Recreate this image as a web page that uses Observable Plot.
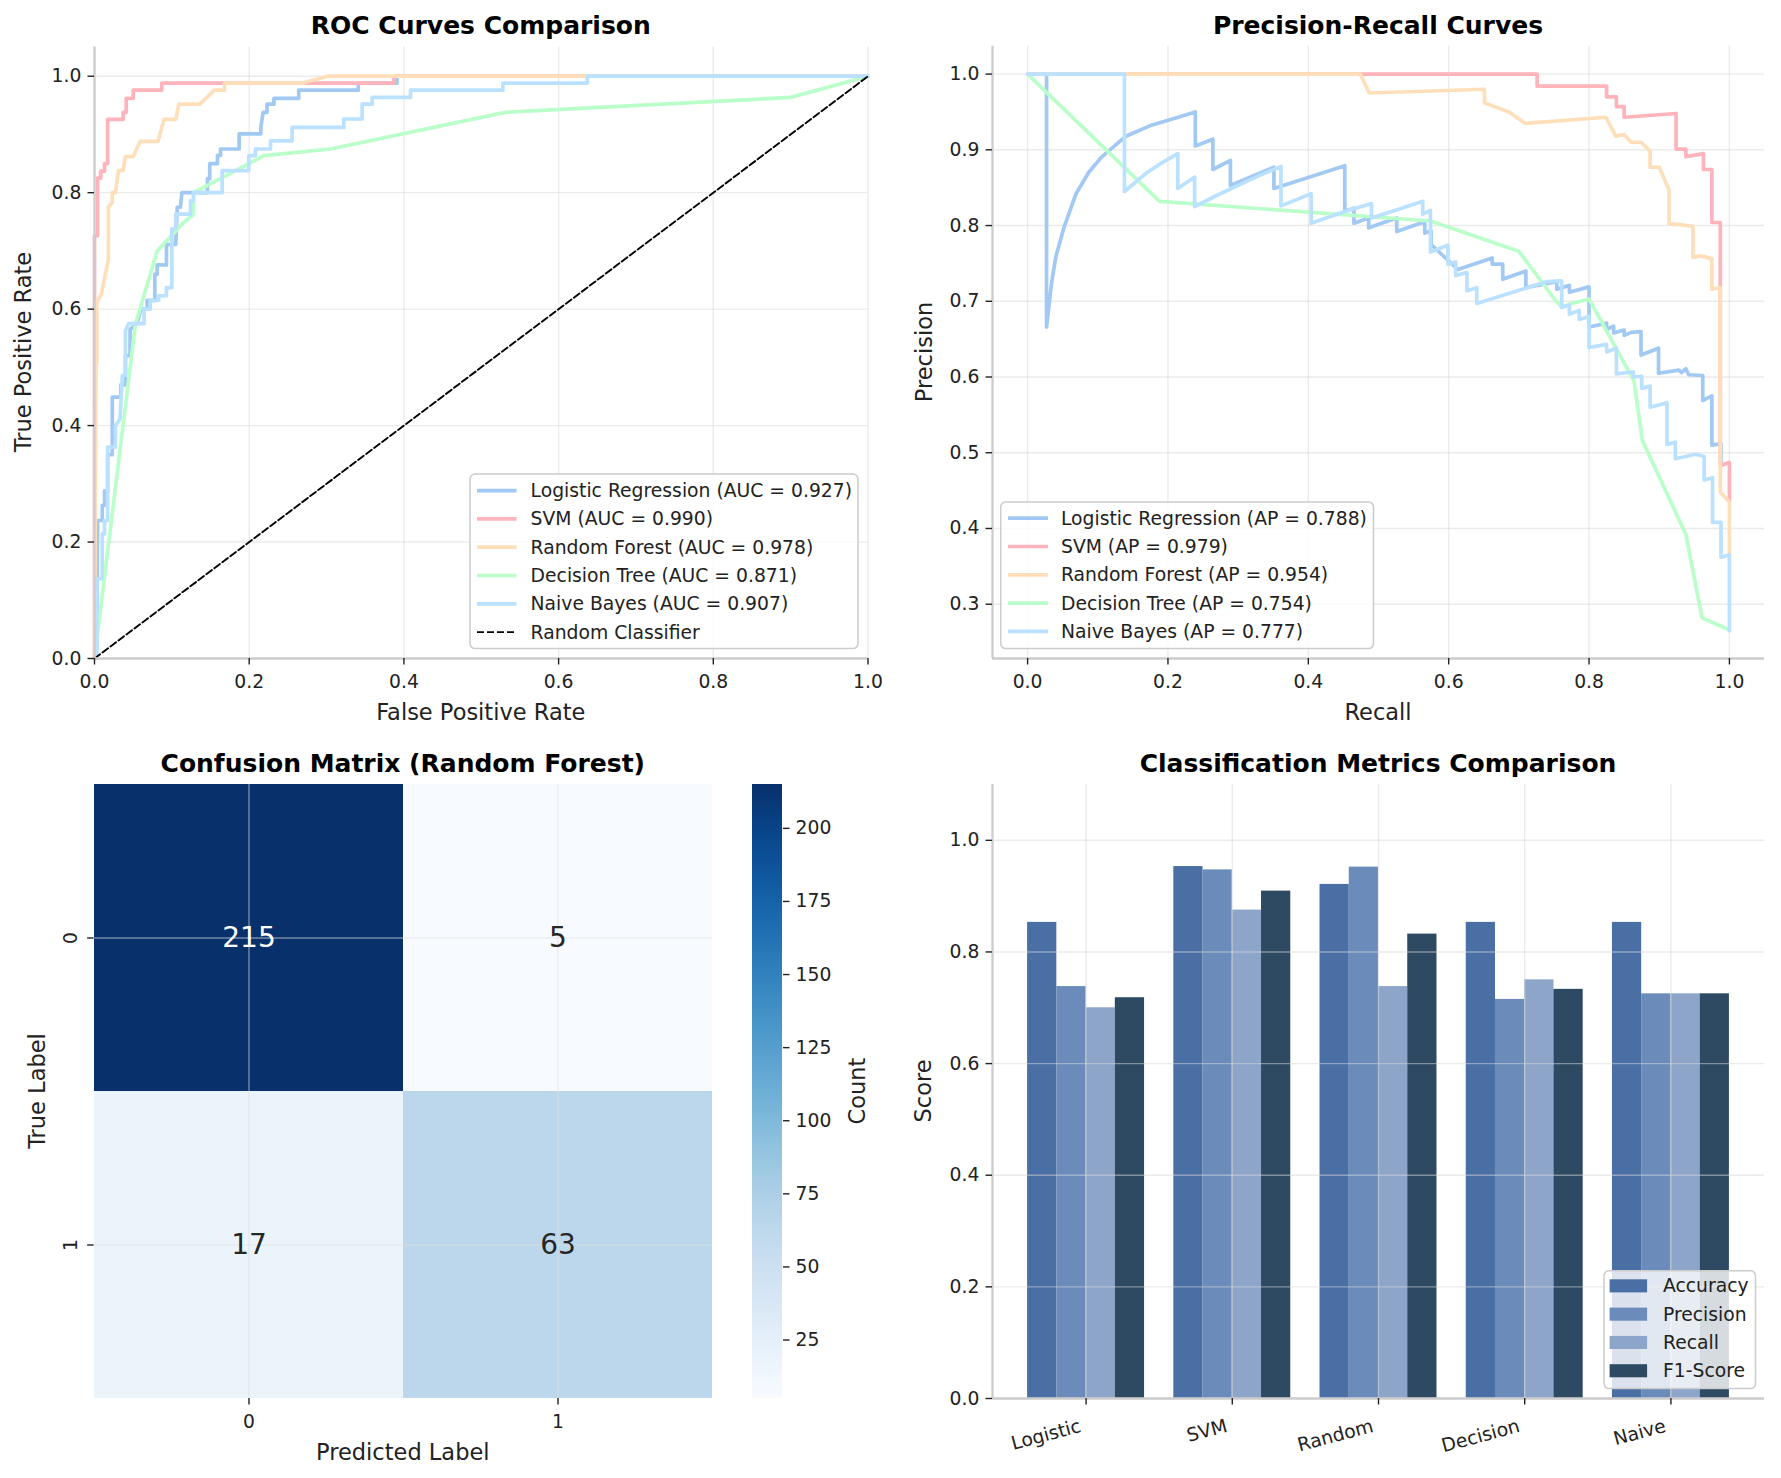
<!DOCTYPE html>
<html><head><meta charset="utf-8">
<script src="https://cdn.jsdelivr.net/npm/d3@7"></script>
<script src="https://cdn.jsdelivr.net/npm/@observablehq/plot@0.6"></script>
<style>
body{margin:0;background:#fff;}
#fig{position:relative;width:1781px;height:1478px;background:#fff;font-family:"DejaVu Sans",sans-serif;overflow:hidden;}
</style></head><body><div id="fig"></div>
<script>
// ---------------- DATA ----------------
const modelNames = ["Logistic Regression", "SVM", "Random Forest", "Decision Tree", "Naive Bayes"];
const modelColors = ["#a1c9f4", "#ffb3ba", "#ffdfba", "#baffc9", "#bae1ff"];
const aucValues = [0.927, 0.990, 0.978, 0.871, 0.907];
const apValues = [0.788, 0.979, 0.954, 0.754, 0.777];

// ROC curves: [false positive rate, true positive rate]
const rocLogistic = [[0,0],[0.003,0.02],[0.004,0.237],[0.010,0.237],[0.010,0.263],[0.013,0.263],[0.013,0.288],[0.017,0.288],[0.017,0.35],[0.023,0.35],[0.023,0.449],[0.034,0.449],[0.034,0.47],[0.040,0.47],[0.040,0.52],[0.046,0.52],[0.046,0.565],[0.055,0.575],[0.060,0.60],[0.068,0.60],[0.068,0.615],[0.078,0.615],[0.078,0.66],[0.081,0.66],[0.081,0.676],[0.093,0.676],[0.093,0.711],[0.105,0.711],[0.107,0.775],[0.111,0.775],[0.113,0.80],[0.146,0.80],[0.146,0.824],[0.149,0.824],[0.149,0.850],[0.159,0.850],[0.159,0.864],[0.163,0.864],[0.163,0.875],[0.187,0.875],[0.187,0.901],[0.215,0.901],[0.215,0.912],[0.218,0.938],[0.223,0.938],[0.223,0.952],[0.232,0.952],[0.232,0.962],[0.264,0.962],[0.264,0.976],[0.341,0.976],[0.341,0.988],[0.391,0.988],[0.391,1.0],[1,1]];
const rocSVM = [[0,0],[0,0.726],[0.004,0.726],[0.004,0.825],[0.008,0.825],[0.008,0.837],[0.013,0.837],[0.013,0.850],[0.017,0.850],[0.017,0.926],[0.037,0.926],[0.037,0.938],[0.041,0.938],[0.041,0.962],[0.050,0.962],[0.050,0.976],[0.087,0.976],[0.087,0.988],[0.387,0.988],[0.387,1.0],[1,1]];
const rocRandomForest = [[0,0],[0.002,0.5],[0.003,0.512],[0.003,0.612],[0.009,0.626],[0.018,0.686],[0.018,0.775],[0.023,0.783],[0.023,0.80],[0.027,0.80],[0.031,0.838],[0.037,0.838],[0.040,0.862],[0.050,0.862],[0.059,0.888],[0.082,0.888],[0.090,0.926],[0.105,0.926],[0.109,0.952],[0.136,0.952],[0.155,0.976],[0.168,0.976],[0.168,0.988],[0.268,0.988],[0.301,1.0],[1,1]];
const rocDecisionTree = [[0,0],[0.053,0.575],[0.081,0.70],[0.1155,0.749],[0.128,0.763],[0.128,0.80],[0.219,0.8635],[0.305,0.875],[0.531,0.938],[0.90,0.9636],[1,1]];
const rocNaiveBayes = [[0,0],[0.003,0],[0.003,0.137],[0.010,0.137],[0.010,0.214],[0.013,0.214],[0.013,0.237],[0.017,0.237],[0.017,0.363],[0.027,0.363],[0.027,0.40],[0.033,0.411],[0.036,0.486],[0.040,0.486],[0.040,0.563],[0.044,0.575],[0.064,0.575],[0.064,0.60],[0.072,0.60],[0.072,0.615],[0.083,0.615],[0.083,0.623],[0.093,0.623],[0.093,0.637],[0.100,0.637],[0.100,0.738],[0.105,0.738],[0.105,0.763],[0.124,0.763],[0.124,0.786],[0.128,0.786],[0.128,0.80],[0.165,0.80],[0.165,0.838],[0.1995,0.838],[0.1995,0.8635],[0.208,0.8635],[0.208,0.875],[0.2275,0.875],[0.2275,0.889],[0.2555,0.889],[0.2555,0.912],[0.3223,0.912],[0.3223,0.9265],[0.346,0.9265],[0.346,0.952],[0.359,0.952],[0.359,0.9636],[0.4085,0.9636],[0.4085,0.976],[0.528,0.976],[0.528,0.988],[0.637,0.988],[0.637,1.0],[1,1]];
const rocRandomClassifier = [[0,0],[1,1]];

// Precision-recall curves: [recall, precision]
const prLogistic = [[0,1],[0.027,1],[0.027,0.666],[0.034,0.723],[0.040,0.758],[0.052,0.798],[0.069,0.842],[0.087,0.870],[0.105,0.890],[0.140,0.918],[0.175,0.932],[0.211,0.942],[0.239,0.950],[0.239,0.905],[0.264,0.914],[0.264,0.874],[0.289,0.886],[0.289,0.853],[0.351,0.877],[0.351,0.849],[0.452,0.879],[0.452,0.819],[0.465,0.823],[0.465,0.803],[0.486,0.810],[0.486,0.797],[0.526,0.810],[0.526,0.792],[0.566,0.805],[0.566,0.790],[0.575,0.793],[0.575,0.775],[0.613,0.742],[0.662,0.757],[0.662,0.749],[0.677,0.749],[0.677,0.729],[0.710,0.740],[0.710,0.718],[0.754,0.726],[0.754,0.716],[0.772,0.721],[0.772,0.712],[0.800,0.719],[0.800,0.666],[0.825,0.671],[0.825,0.663],[0.835,0.667],[0.835,0.658],[0.850,0.662],[0.850,0.655],[0.860,0.659],[0.874,0.660],[0.874,0.629],[0.899,0.638],[0.899,0.605],[0.928,0.609],[0.932,0.606],[0.938,0.611],[0.942,0.603],[0.962,0.602],[0.962,0.569],[0.975,0.575],[0.975,0.510],[0.988,0.512],[0.988,0.483]];
const prSVM = [[0,1],[0.726,1],[0.726,0.984],[0.825,0.984],[0.825,0.970],[0.839,0.970],[0.839,0.957],[0.850,0.957],[0.850,0.943],[0.924,0.948],[0.924,0.901],[0.938,0.901],[0.938,0.891],[0.963,0.895],[0.963,0.874],[0.975,0.874],[0.975,0.804],[0.987,0.804],[0.987,0.483],[1.0,0.487],[1.0,0.435]];
const prRandomForest = [[0,1],[0.474,1],[0.487,0.975],[0.651,0.980],[0.651,0.962],[0.686,0.950],[0.709,0.935],[0.824,0.943],[0.838,0.918],[0.850,0.920],[0.860,0.910],[0.874,0.910],[0.887,0.898],[0.887,0.877],[0.900,0.877],[0.914,0.847],[0.914,0.802],[0.924,0.802],[0.948,0.799],[0.948,0.758],[0.959,0.760],[0.975,0.756],[0.975,0.716],[0.987,0.718],[0.987,0.448],[1.0,0.435],[1.0,0.367]];
const prDecisionTree = [[0,1],[0.188,0.832],[0.574,0.806],[0.700,0.766],[0.749,0.705],[0.761,0.692],[0.775,0.697],[0.800,0.703],[0.864,0.595],[0.876,0.516],[0.938,0.392],[0.961,0.282],[1.0,0.266]];
const prNaiveBayes = [[0,1],[0.138,1],[0.138,0.845],[0.170,0.870],[0.190,0.882],[0.214,0.895],[0.214,0.849],[0.238,0.864],[0.238,0.825],[0.270,0.840],[0.300,0.853],[0.330,0.866],[0.361,0.878],[0.361,0.826],[0.404,0.842],[0.404,0.803],[0.450,0.818],[0.490,0.829],[0.490,0.810],[0.530,0.822],[0.563,0.832],[0.563,0.815],[0.574,0.820],[0.574,0.765],[0.599,0.774],[0.599,0.749],[0.610,0.752],[0.610,0.734],[0.626,0.738],[0.626,0.714],[0.640,0.718],[0.640,0.697],[0.740,0.726],[0.761,0.727],[0.761,0.692],[0.772,0.695],[0.772,0.683],[0.786,0.688],[0.786,0.676],[0.800,0.680],[0.800,0.639],[0.825,0.643],[0.825,0.633],[0.839,0.638],[0.839,0.604],[0.863,0.607],[0.863,0.600],[0.875,0.601],[0.875,0.585],[0.887,0.588],[0.887,0.560],[0.911,0.566],[0.911,0.511],[0.923,0.514],[0.923,0.492],[0.952,0.498],[0.964,0.495],[0.964,0.464],[0.976,0.467],[0.976,0.408],[0.988,0.408],[0.988,0.362],[1.0,0.365],[1.0,0.265]];

// Confusion matrix (Random Forest)
const cmLabels = ["0", "1"];
const cmRow0 = [215, 5];
const cmRow1 = [17, 63];
const cmTicks = [25, 50, 75, 100, 125, 150, 175, 200];

// Classification metrics
const barModels = ["Logistic", "SVM", "Random", "Decision", "Naive"];
const metricNames = ["Accuracy", "Precision", "Recall", "F1-Score"];
const metricColors = ["#4a6fa5", "#6b8cba", "#8ca5c8", "#2e4a62"];
const accuracy = [0.853, 0.953, 0.921, 0.853, 0.853];
const precision = [0.738, 0.947, 0.952, 0.715, 0.725];
const recall = [0.700, 0.875, 0.738, 0.750, 0.725];
const f1Score = [0.718, 0.909, 0.832, 0.733, 0.725];

const ticks01 = [0, 0.2, 0.4, 0.6, 0.8, 1.0];
const ticksPR = [0.3, 0.4, 0.5, 0.6, 0.7, 0.8, 0.9, 1.0];

// ---------------- STYLE ----------------
const FONT = "DejaVu Sans";
const TICK = 18.75, LABEL = 22.5, TITLE = 25, LEG = 18.75;
const TXT = "#222";
const fig = document.getElementById("fig");
const fmt1 = d3.format(".1f");
const baseStyle = {fontFamily: FONT, fontSize: TICK + "px", color: TXT, background: "transparent", overflow: "visible"};
const gridStyle = {stroke: "#d8d8d8", strokeOpacity: 0.5, strokeWidth: 1.4};
const spineStyle = {stroke: "#cccccc", strokeWidth: 2.3};
const LW = 3.7;

function place(el, left, top) {
  el.style.position = "absolute";
  el.style.left = left + "px";
  el.style.top = top + "px";
  fig.appendChild(el);
}

// ---------------- ROC ----------------
const rocCurves = [rocLogistic, rocSVM, rocRandomForest, rocDecisionTree, rocNaiveBayes];
const rocDomX = [0, 1], rocDomY = [0, 1.05];
const roc = Plot.plot({
  width: 890, height: 740, marginLeft: 94, marginRight: 22.5, marginTop: 46.6, marginBottom: 82,
  style: baseStyle,
  x: {domain: rocDomX}, y: {domain: rocDomY},
  marks: [
    Plot.gridX({ticks: ticks01, ...gridStyle}),
    Plot.gridY({ticks: ticks01, ...gridStyle}),
    ...rocCurves.map((c, i) => Plot.line(c, {x: d => d[0], y: d => d[1], stroke: modelColors[i], strokeWidth: LW})),
    Plot.line(rocRandomClassifier, {x: d => d[0], y: d => d[1], stroke: "black", strokeWidth: 1.9, strokeDasharray: "7,3"}),
    Plot.ruleX([rocDomX[0]], spineStyle),
    Plot.ruleY([rocDomY[0]], spineStyle),
    Plot.axisX({ticks: ticks01, tickFormat: fmt1, tickSize: 6.5, tickPadding: 10, strokeWidth: 1.4, label: null}),
    Plot.axisY({ticks: ticks01, tickFormat: fmt1, tickSize: 6.5, tickPadding: 6.6, strokeWidth: 1.4, label: null})
  ]
});
place(roc, 0, 0);

// ---------------- PR ----------------
const prCurves = [prLogistic, prSVM, prRandomForest, prDecisionTree, prNaiveBayes];
const prDomX = [-0.05, 1.05], prDomY = [0.2283, 1.0367];
const pr = Plot.plot({
  width: 891, height: 740, marginLeft: 102, marginRight: 17, marginTop: 45.8, marginBottom: 82,
  style: baseStyle,
  x: {domain: prDomX}, y: {domain: prDomY},
  marks: [
    Plot.gridX({ticks: ticks01, ...gridStyle}),
    Plot.gridY({ticks: ticksPR, ...gridStyle}),
    ...prCurves.map((c, i) => Plot.line(c, {x: d => d[0], y: d => d[1], stroke: modelColors[i], strokeWidth: LW})),
    Plot.ruleX([prDomX[0]], spineStyle),
    Plot.ruleY([prDomY[0]], spineStyle),
    Plot.axisX({ticks: ticks01, tickFormat: fmt1, tickSize: 6.5, tickPadding: 10, strokeWidth: 1.4, label: null}),
    Plot.axisY({ticks: ticksPR, tickFormat: fmt1, tickSize: 6.5, tickPadding: 6.6, strokeWidth: 1.4, label: null})
  ]
});
place(pr, 890, 0);

// ---------------- CONFUSION MATRIX ----------------
const cmCells = [cmRow0, cmRow1].flatMap((row, i) => row.map((v, j) => ({trueLabel: cmLabels[i], predLabel: cmLabels[j], count: v})));
const cmDomain = [d3.min(cmCells, d => d.count), d3.max(cmCells, d => d.count)];
const cmColor = {type: "linear", scheme: "blues", domain: cmDomain};
const cm = Plot.plot({
  width: 740, height: 740, marginLeft: 93.6, marginRight: 28, marginTop: 44, marginBottom: 82,
  style: baseStyle,
  x: {domain: cmLabels, padding: 0}, y: {domain: cmLabels, padding: 0},
  color: cmColor,
  marks: [
    Plot.cell(cmCells, {x: "predLabel", y: "trueLabel", fill: "count"}),
    Plot.gridX({stroke: "#e0e0e0", strokeOpacity: 0.5, strokeWidth: 1.4}),
    Plot.gridY({stroke: "#e0e0e0", strokeOpacity: 0.5, strokeWidth: 1.4}),
    Plot.text(cmCells, {filter: d => d.count > 110, x: "predLabel", y: "trueLabel", text: d => String(d.count), fill: "white", fontSize: 28}),
    Plot.text(cmCells, {filter: d => d.count <= 110, x: "predLabel", y: "trueLabel", text: d => String(d.count), fill: "#262626", fontSize: 28}),
    Plot.axisX({tickSize: 6.5, tickPadding: 10, strokeWidth: 1.4, label: null}),
    Plot.axisY({tickSize: 6.5, tickPadding: 11, tickRotate: -90, strokeWidth: 1.4, label: null})
  ]
});
place(cm, 0, 740);

// colorbar
const cbStep = 0.5;
const cbValues = d3.range(cmDomain[0], cmDomain[1], cbStep);
const cb = Plot.plot({
  width: 110, height: 740, marginLeft: 12, marginRight: 68, marginTop: 44, marginBottom: 82,
  style: baseStyle,
  x: {domain: [0, 1], axis: null}, y: {domain: cmDomain},
  color: cmColor,
  marks: [
    Plot.rect(cbValues, {x1: 0, x2: 1, y1: d => d, y2: d => Math.min(d + cbStep * 1.6, cmDomain[1]), fill: d => d, shapeRendering: "crispEdges"}),
    Plot.axisY({anchor: "right", ticks: cmTicks, tickSize: 6.5, tickPadding: 6.6, strokeWidth: 1.4, label: null})
  ]
});
place(cb, 740, 740);

// ---------------- BAR CHART ----------------
const metricSeries = [accuracy, precision, recall, f1Score];
const barW = 0.2;
const barRows = metricSeries.flatMap((vals, j) => vals.map((v, i) => ({model: barModels[i], index: i, metric: metricNames[j], j, value: v})));
const barDomX = [-0.64, 4.64], barDomY = [0, 1.1];
const bar = Plot.plot({
  width: 891, height: 740, marginLeft: 102, marginRight: 17, marginTop: 44, marginBottom: 82,
  style: baseStyle,
  x: {domain: barDomX}, y: {domain: barDomY},
  color: {domain: metricNames, range: metricColors},
  marks: [
    Plot.rect(barRows, {x1: d => d.index + (d.j - 2) * barW, x2: d => d.index + (d.j - 1) * barW, y1: 0, y2: "value", fill: "metric"}),
    Plot.gridX({ticks: barModels.map((m, i) => i), ...gridStyle}),
    Plot.gridY({ticks: ticks01, ...gridStyle}),
    Plot.ruleX([barDomX[0]], spineStyle),
    Plot.ruleY([barDomY[0]], spineStyle),
    Plot.axisX({ticks: barModels.map((m, i) => i), tickFormat: () => "", tickSize: 6.5, strokeWidth: 1.4, label: null}),
    Plot.text(barModels, {x: (d, i) => i, text: d => d, frameAnchor: "bottom", dy: 33, dx: -4, rotate: -15, textAnchor: "end", lineAnchor: "bottom", fontSize: TICK, fill: TXT}),
    Plot.axisY({ticks: ticks01, tickFormat: fmt1, tickSize: 6.5, tickPadding: 6.6, strokeWidth: 1.4, label: null})
  ]
});
place(bar, 890, 740);

// ---------------- TEXT OVERLAY (titles, labels, legends) ----------------
const svg = d3.create("svg").attr("width", 1781).attr("height", 1478)
  .style("position", "absolute").style("left", "0px").style("top", "0px")
  .style("font-family", FONT).style("pointer-events", "none");

const titles = [
  ["ROC Curves Comparison", 480.8, 25],
  ["Precision-Recall Curves", 1378, 25],
  ["Confusion Matrix (Random Forest)", 402.8, 763.6],
  ["Classification Metrics Comparison", 1378, 763.6]
];
titles.forEach(([t, x, y]) => svg.append("text").attr("x", x).attr("y", y).attr("text-anchor", "middle")
  .attr("dominant-baseline", "central").attr("font-size", TITLE).attr("font-weight", "bold").attr("fill", "#000").text(t));

const xLabels = [["False Positive Rate", 480.8, 712], ["Recall", 1378, 712], ["Predicted Label", 402.8, 1452]];
xLabels.forEach(([t, x, y]) => svg.append("text").attr("x", x).attr("y", y).attr("text-anchor", "middle")
  .attr("dominant-baseline", "central").attr("font-size", LABEL).attr("fill", TXT).text(t));

const yLabels = [["True Positive Rate", 22.7, 352], ["Precision", 924, 352], ["True Label", 37, 1091], ["Score", 923, 1091], ["Count", 857, 1091]];
yLabels.forEach(([t, x, y]) => svg.append("text").attr("transform", `translate(${x},${y}) rotate(-90)`)
  .attr("text-anchor", "middle").attr("dominant-baseline", "central").attr("font-size", LABEL).attr("fill", TXT).text(t));

function legendBox(x, y, w, h) {
  svg.append("rect").attr("x", x).attr("y", y).attr("width", w).attr("height", h).attr("rx", 5)
    .attr("fill", "white").attr("fill-opacity", 0.8).attr("stroke", "#cccccc").attr("stroke-width", 1.5);
}
// ROC legend
legendBox(470, 474, 388, 174.6);
const rocLegend = modelNames.map((n, i) => ({label: `${n} (AUC = ${aucValues[i].toFixed(3)})`, color: modelColors[i], dash: null, w: LW}))
  .concat([{label: "Random Classifier", color: "black", dash: "7,3", w: 1.9}]);
rocLegend.forEach((e, i) => {
  const y = 490.6 + i * 28.3;
  svg.append("line").attr("x1", 477).attr("x2", 516.5).attr("y1", y).attr("y2", y)
    .attr("stroke", e.color).attr("stroke-width", e.w).attr("stroke-dasharray", e.dash);
  svg.append("text").attr("x", 530.6).attr("y", y).attr("dominant-baseline", "central")
    .attr("font-size", LEG).attr("fill", TXT).text(e.label);
});
// PR legend
legendBox(1000.7, 502, 372.8, 146.6);
modelNames.forEach((n, i) => {
  const y = 518.2 + i * 28.3;
  svg.append("line").attr("x1", 1008).attr("x2", 1048).attr("y1", y).attr("y2", y)
    .attr("stroke", modelColors[i]).attr("stroke-width", LW);
  svg.append("text").attr("x", 1061).attr("y", y).attr("dominant-baseline", "central")
    .attr("font-size", LEG).attr("fill", TXT).text(`${n} (AP = ${apValues[i].toFixed(3)})`);
});
// Bar legend
legendBox(1604, 1270.7, 151.5, 117.9);
metricNames.forEach((n, i) => {
  const y = 1285.8 + i * 28.3;
  svg.append("rect").attr("x", 1609.6).attr("y", y - 6.5).attr("width", 37.5).attr("height", 13.1).attr("fill", metricColors[i]);
  svg.append("text").attr("x", 1663).attr("y", y).attr("dominant-baseline", "central")
    .attr("font-size", LEG).attr("fill", TXT).text(n);
});

fig.appendChild(svg.node());
</script></body></html>
